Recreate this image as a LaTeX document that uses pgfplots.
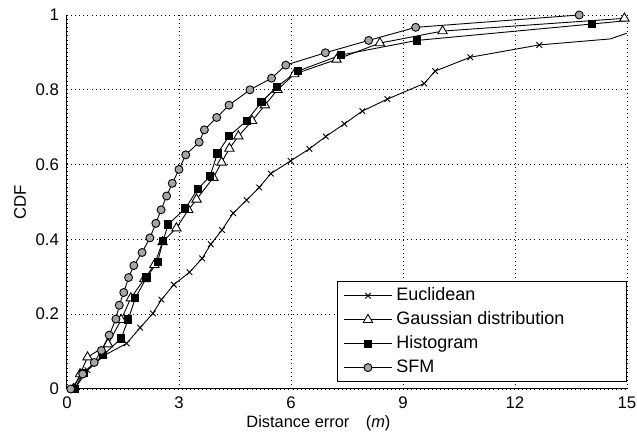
\documentclass[border=0pt]{standalone}
\usepackage{fontspec}
\setmainfont{Liberation Sans}
\usepackage{pgfplots}
\pgfplotsset{compat=1.18}
\definecolor{sfmgray}{RGB}{165,165,165}
\begin{document}
\begin{tikzpicture}[font=\fontsize{8.4}{10}\selectfont]
\begin{axis}[
    width=280pt, height=187pt,
    scale only axis,
    xmin=0, xmax=15, ymin=0, ymax=1,
    xtick={0,3,6,9,12,15},
    ytick={0,0.2,0.4,0.6,0.8,1},
    yticklabels={0,0.2,0.4,0.6,0.8,1},
    axis x line*=bottom, axis y line*=left,
    axis line style={-, line width=0.5pt},
    major tick length=0pt,
    grid=major,
    major grid style={black, line width=0.4pt, dash pattern=on 0.45pt off 1.6pt},
    /pgf/number format/assume math mode=true,
    xlabel={Distance error\quad(\textit{m})},
    ylabel={CDF},
    every axis x label/.style={at={(axis description cs:0.449,0)}, anchor=center, yshift=-17pt, font=\fontsize{8.2}{9.5}\selectfont},
    every axis y label/.style={at={(axis description cs:0,0.5)}, xshift=-23.5pt, rotate=90, anchor=center},
    xticklabel style={yshift=-0.5pt},
    yticklabel style={xshift=-0.5pt},
    legend style={at={(1,0.019)}, anchor=south east, draw=black, line width=0.5pt,
        inner xsep=3pt, inner ysep=1pt, row sep=0pt, font=\fontsize{9}{10.5}\selectfont},
    legend cell align=left,
    legend image code/.code={\draw[mark repeat=2,mark phase=2,#1] plot coordinates {(0pt,0pt) (12pt,0pt) (24pt,0pt)};},
    every axis plot/.append style={black, line width=0.45pt},
]
% Euclidean
\addplot[mark=x, mark size=2pt] coordinates {
 (0.2,0) (0.55,0.05) (1.0,0.09) (1.6,0.122) (1.96,0.164) (2.30,0.202) (2.53,0.239)
 (2.86,0.279) (3.28,0.312) (3.62,0.349) (3.85,0.387) (4.15,0.425) (4.45,0.47)
 (4.81,0.505) (5.15,0.539) (5.46,0.576) (5.99,0.61) (6.49,0.642) (6.93,0.675)
 (7.43,0.709) (7.91,0.743) (8.58,0.775) (9.57,0.817) (9.86,0.85) (10.80,0.887)
 (12.65,0.92)
};
% Gaussian distribution
\addplot[mark=triangle*, mark size=2.7pt, mark options={fill=white}] coordinates {
 (0.17,0) (0.35,0.04) (0.55,0.085) (1.1,0.12) (1.45,0.185) (1.71,0.243) (2.07,0.294)
 (2.34,0.332) (2.56,0.393) (2.93,0.43) (3.25,0.479) (3.47,0.507) (3.92,0.565)
 (4.14,0.606) (4.35,0.643) (4.59,0.676) (4.96,0.717) (5.30,0.759) (5.64,0.80)
 (6.09,0.842) (7.22,0.881) (8.38,0.925) (10.06,0.957) (14.93,0.991)
};
% Histogram
\addplot[mark=square*, mark size=1.8pt, mark options={fill=black}] coordinates {
 (0.2,0) (0.44,0.042) (0.97,0.091) (1.45,0.135) (1.64,0.186) (1.83,0.243) (2.13,0.298)
 (2.43,0.34) (2.57,0.395) (2.71,0.44) (3.17,0.483) (3.50,0.534) (3.83,0.569)
 (4.03,0.63) (4.34,0.676) (4.81,0.717) (5.21,0.767) (5.62,0.808) (6.18,0.850)
 (7.34,0.893) (9.37,0.932) (14.07,0.976)
};
% SFM
\addplot[mark=*, mark size=2pt, mark options={fill=sfmgray}] coordinates {
 (0.1,0) (0.42,0.04) (0.73,0.071) (0.92,0.103) (1.13,0.144) (1.31,0.187) (1.40,0.224)
 (1.52,0.258) (1.65,0.298) (1.79,0.330) (2.01,0.365) (2.22,0.404) (2.38,0.443)
 (2.52,0.479) (2.67,0.516) (2.82,0.55) (3.0,0.587) (3.18,0.626) (3.54,0.66)
 (3.68,0.693) (4.01,0.726) (4.34,0.759) (4.90,0.80) (5.48,0.831) (5.86,0.866)
 (6.92,0.899) (8.08,0.932) (9.34,0.967) (13.72,1.0)
};
% unmarked tails
\addplot[forget plot] coordinates {(12.65,0.92) (14.55,0.936) (14.99,0.951)};
\addplot[forget plot] coordinates {(14.07,0.976) (15,0.985)};
\legend{Euclidean, Gaussian distribution\hspace*{26pt}, Histogram, SFM}
\end{axis}
\pgfresetboundingbox
\path ([shift={(-33.5pt,-24.5pt)}]current axis.south west) rectangle ([shift={(5pt,7.5pt)}]current axis.north east);
\end{tikzpicture}
\end{document}
